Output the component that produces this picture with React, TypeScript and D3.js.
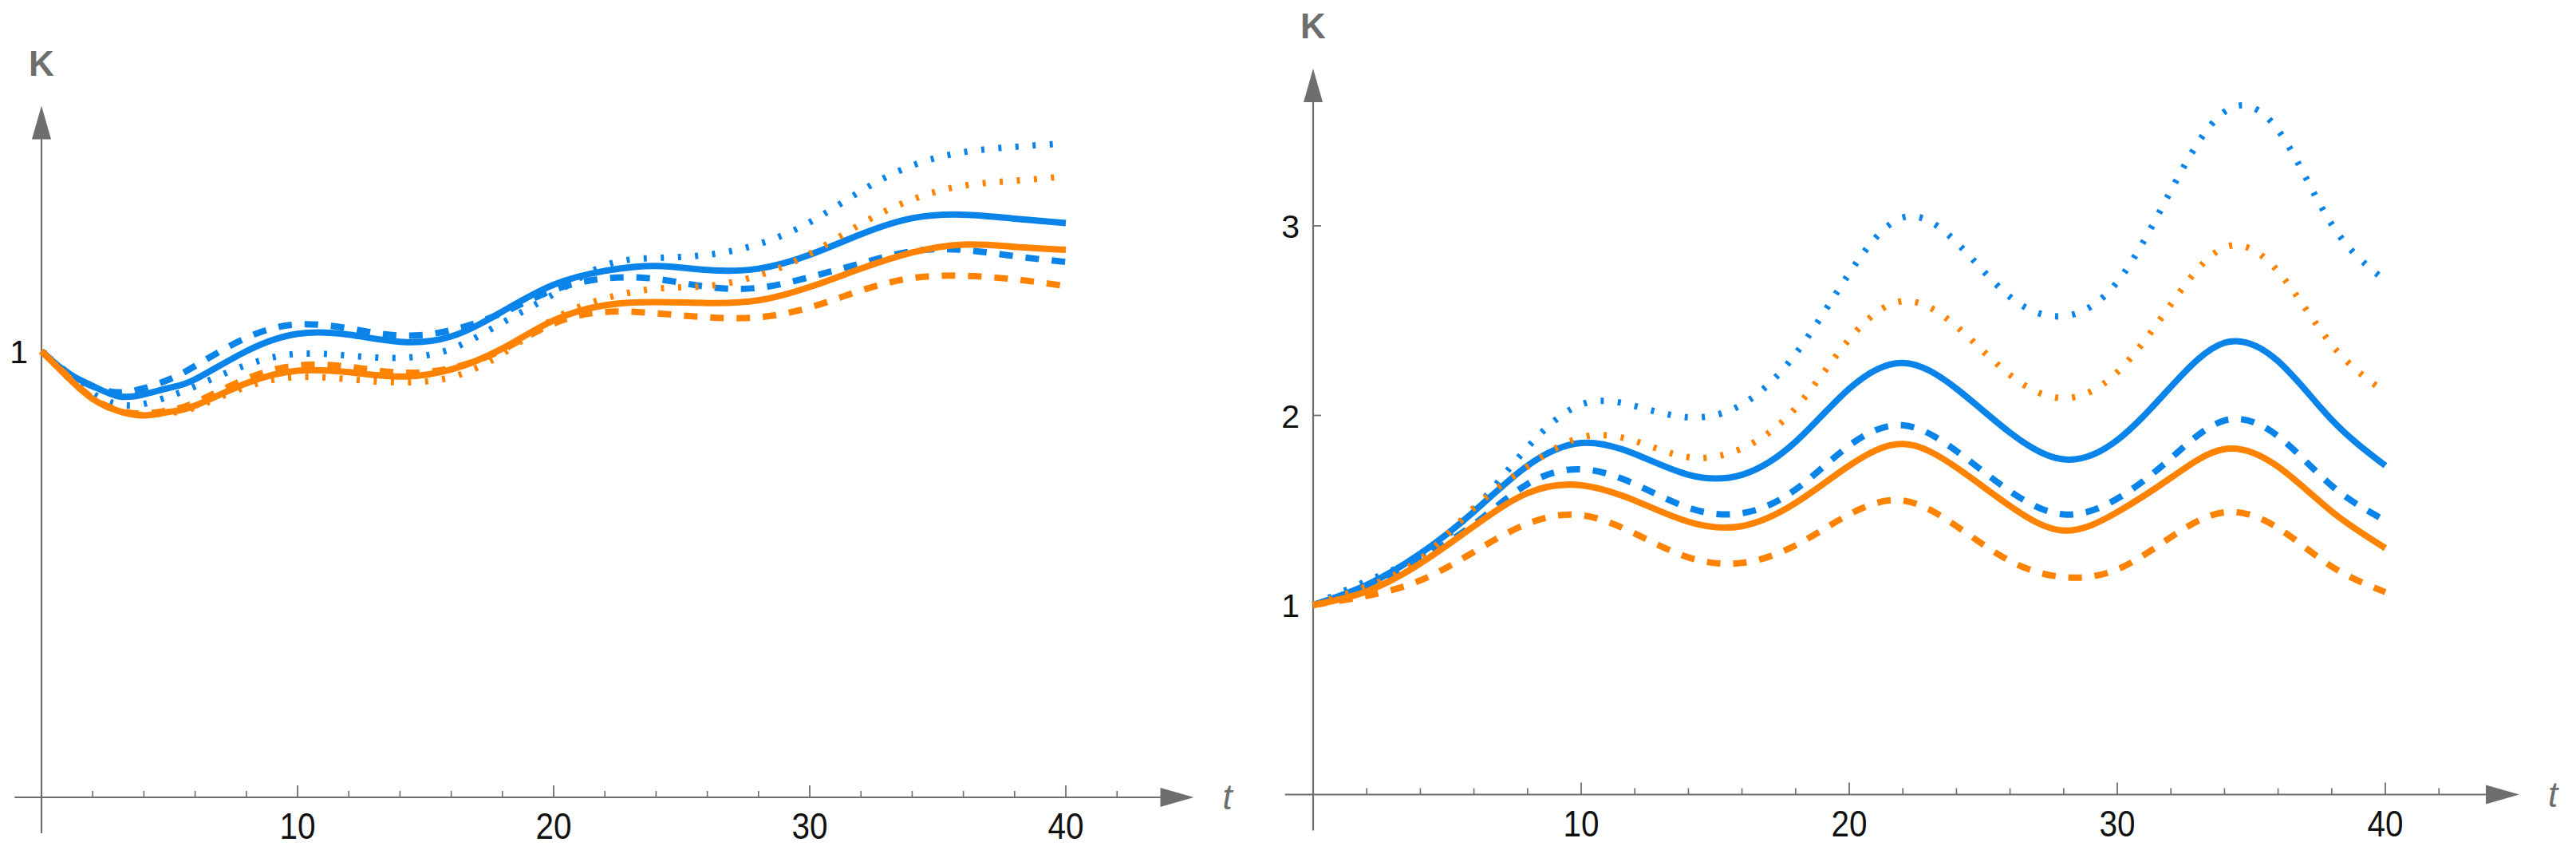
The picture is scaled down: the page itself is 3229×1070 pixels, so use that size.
import React, { useRef, useEffect } from "react";
import * as d3 from "d3";

// ---- left panel: sample times and K(t) ----
const tLeft = [0, 1, 2, 3, 4, 5, 6, 8, 10, 12, 14, 16, 18, 20, 22, 24, 26, 28, 30, 32, 34, 36, 38, 40];
const blueSolidLeft = [1.0, 0.952, 0.922, 0.899, 0.903, 0.918, 0.937, 1.0, 1.039, 1.037, 1.021, 1.033, 1.089, 1.149, 1.18, 1.191, 1.182, 1.185, 1.216, 1.262, 1.298, 1.306, 1.297, 1.287];
const blueDashLeft = [1.0, 0.953, 0.921, 0.908, 0.917, 0.937, 0.967, 1.03, 1.06, 1.051, 1.035, 1.047, 1.086, 1.137, 1.163, 1.162, 1.144, 1.142, 1.166, 1.197, 1.224, 1.227, 1.213, 1.2];
const blueDotLeft = [1.0, 0.949, 0.905, 0.881, 0.882, 0.899, 0.921, 0.969, 0.994, 0.99, 0.985, 1.005, 1.064, 1.128, 1.192, 1.209, 1.216, 1.24, 1.289, 1.359, 1.416, 1.446, 1.458, 1.466];
const orangeSolidLeft = [1.0, 0.943, 0.893, 0.866, 0.856, 0.864, 0.878, 0.928, 0.956, 0.953, 0.943, 0.959, 1.006, 1.069, 1.103, 1.11, 1.108, 1.114, 1.144, 1.185, 1.221, 1.239, 1.234, 1.227];
const orangeDashLeft = [1.0, 0.945, 0.895, 0.868, 0.86, 0.868, 0.885, 0.938, 0.968, 0.965, 0.952, 0.962, 1.003, 1.062, 1.088, 1.085, 1.076, 1.076, 1.098, 1.136, 1.164, 1.169, 1.161, 1.146];
const orangeDotLeft = [1.0, 0.943, 0.893, 0.866, 0.857, 0.862, 0.874, 0.92, 0.942, 0.937, 0.93, 0.942, 0.994, 1.072, 1.118, 1.14, 1.146, 1.17, 1.218, 1.285, 1.34, 1.371, 1.382, 1.392];

// ---- right panel ----
const tRight = [0, 2, 4, 6, 8, 10, 12, 14, 16, 18, 20, 22, 24, 26, 28, 30, 32, 34, 36, 38, 40];
const blueSolidRight = [1.0, 1.106, 1.271, 1.493, 1.735, 1.855, 1.797, 1.687, 1.687, 1.861, 2.141, 2.277, 2.141, 1.909, 1.768, 1.87, 2.151, 2.383, 2.286, 1.977, 1.735];
const blueDashRight = [1.0, 1.097, 1.246, 1.426, 1.638, 1.716, 1.638, 1.513, 1.484, 1.609, 1.841, 1.948, 1.812, 1.6, 1.478, 1.561, 1.774, 1.973, 1.89, 1.629, 1.445];
const blueDotRight = [1.0, 1.126, 1.261, 1.503, 1.832, 2.058, 2.05, 1.99, 2.058, 2.325, 2.75, 3.044, 2.913, 2.625, 2.524, 2.704, 3.186, 3.602, 3.505, 3.008, 2.712];
const orangeSolidRight = [1.0, 1.072, 1.219, 1.416, 1.59, 1.632, 1.551, 1.439, 1.416, 1.538, 1.735, 1.849, 1.725, 1.522, 1.393, 1.49, 1.671, 1.822, 1.729, 1.493, 1.3];
const orangeDashRight = [1.0, 1.048, 1.13, 1.28, 1.429, 1.474, 1.377, 1.251, 1.222, 1.315, 1.478, 1.551, 1.416, 1.232, 1.147, 1.188, 1.358, 1.489, 1.406, 1.203, 1.068];
const orangeDotRight = [1.0, 1.097, 1.242, 1.513, 1.731, 1.884, 1.865, 1.78, 1.826, 2.039, 2.402, 2.603, 2.47, 2.213, 2.091, 2.228, 2.586, 2.886, 2.76, 2.373, 2.122];

const xMajorTicks = [10, 20, 30, 40];
const xMinorTicks = [2, 4, 6, 8, 12, 14, 16, 18, 22, 24, 26, 28, 32, 34, 36, 38, 42];
const leftYTicks = [1];
const rightYTicks = [1, 2, 3];

const BLUE = "#0a84e9";
const ORANGE = "#ff8300";
const AXIS = "#6e6e6e";
const DASHED = "17 16";
const DOTTED = "4 17.5";

type Series = { values: number[]; color: string; dash: string | null };

type PanelOpts = {
  t: number[];
  series: Series[];
  xRange: [number, number]; // pixels of t=0 and t=40
  yDomain: [number, number];
  yRange: [number, number];
  yTop: number; // K value at the arrow tip
  yTicks: number[];
  yTickLen: number;
};

function drawPanel(g: d3.Selection<SVGGElement, unknown, null, undefined>, p: PanelOpts) {
  const x = d3.scaleLinear().domain([0, 40]).range(p.xRange);
  const y = d3.scaleLinear().domain(p.yDomain).range(p.yRange);
  const x0 = x(0);
  const y0 = y(0);

  // x axis
  const xEnd = x(45);
  g.append("line")
    .attr("x1", x(-1.05)).attr("x2", xEnd - 38)
    .attr("y1", y0).attr("y2", y0)
    .attr("stroke", AXIS).attr("stroke-width", 2.2);
  g.append("path")
    .attr("d", `M${xEnd},${y0} L${xEnd - 42},${y0 - 12} L${xEnd - 42},${y0 + 12} Z`)
    .attr("fill", AXIS);

  g.selectAll(".xmaj")
    .data(xMajorTicks)
    .join("line")
    .attr("x1", (d) => x(d)).attr("x2", (d) => x(d))
    .attr("y1", y0).attr("y2", y0 - 15)
    .attr("stroke", AXIS).attr("stroke-width", 1.8);
  g.selectAll(".xmin")
    .data(xMinorTicks)
    .join("line")
    .attr("x1", (d) => x(d)).attr("x2", (d) => x(d))
    .attr("y1", y0).attr("y2", y0 - 8)
    .attr("stroke", AXIS).attr("stroke-width", 1.6);
  g.selectAll(".xlab")
    .data(xMajorTicks)
    .join("text")
    .attr("transform", (d) => `translate(${x(d)},${y0 + 52}) scale(0.88,1)`)
    .attr("text-anchor", "middle")
    .attr("font-family", "'Liberation Sans', Arial, sans-serif")
    .attr("font-size", 46)
    .attr("fill", "#111")
    .text((d) => d);
  g.append("text")
    .attr("x", xEnd + 42).attr("y", y0 + 15)
    .attr("text-anchor", "middle")
    .attr("font-family", "'Liberation Sans', Arial, sans-serif")
    .attr("font-style", "italic")
    .attr("font-size", 44)
    .attr("fill", AXIS)
    .text("t");

  // y axis
  const yTip = y(p.yTop);
  g.append("line")
    .attr("x1", x0).attr("x2", x0)
    .attr("y1", y0 + 45).attr("y2", yTip + 38)
    .attr("stroke", AXIS).attr("stroke-width", 2.2);
  g.append("path")
    .attr("d", `M${x0},${yTip} L${x0 - 12},${yTip + 42} L${x0 + 12},${yTip + 42} Z`)
    .attr("fill", AXIS);
  g.selectAll(".ytick")
    .data(p.yTicks)
    .join("line")
    .attr("x1", x0).attr("x2", x0 + p.yTickLen)
    .attr("y1", (d) => y(d)).attr("y2", (d) => y(d))
    .attr("stroke", AXIS).attr("stroke-width", 1.8);
  g.selectAll(".ylab")
    .data(p.yTicks)
    .join("text")
    .attr("x", x0 - 17).attr("y", (d) => y(d) + 15)
    .attr("text-anchor", "end")
    .attr("font-family", "'Liberation Sans', Arial, sans-serif")
    .attr("font-size", 41)
    .attr("fill", "#111")
    .text((d) => d);
  g.append("text")
    .attr("x", x0).attr("y", yTip - 38)
    .attr("text-anchor", "middle")
    .attr("font-family", "'Liberation Sans', Arial, sans-serif")
    .attr("font-weight", "bold")
    .attr("font-size", 44)
    .attr("fill", AXIS)
    .text("K");

  // curves
  const line = d3
    .line<number>()
    .x((_, i) => x(p.t[i]))
    .y((d) => y(d))
    .curve(d3.curveNatural);
  p.series.forEach((s) => {
    g.append("path")
      .datum(s.values)
      .attr("fill", "none")
      .attr("stroke", s.color)
      .attr("stroke-width", 8)
      .attr("stroke-linecap", "butt")
      .attr("stroke-linejoin", "round")
      .attr("stroke-dasharray", s.dash)
      .attr("d", line);
  });
}

const App: React.FC = () => {
  const ref = useRef<SVGSVGElement>(null);

  useEffect(() => {
    if (!ref.current) return;
    const svg = d3.select(ref.current);
    svg.selectAll("*").remove();

    drawPanel(svg.append("g"), {
      t: tLeft,
      series: [
        { values: blueSolidLeft, color: BLUE, dash: null },
        { values: blueDashLeft, color: BLUE, dash: DASHED },
        { values: blueDotLeft, color: BLUE, dash: DOTTED },
        { values: orangeSolidLeft, color: ORANGE, dash: null },
        { values: orangeDashLeft, color: ORANGE, dash: DASHED },
        { values: orangeDotLeft, color: ORANGE, dash: DOTTED },
      ],
      xRange: [52, 1336],
      yDomain: [0, 1],
      yRange: [999, 440],
      yTop: 1.55,
      yTicks: leftYTicks,
      yTickLen: 7,
    });

    drawPanel(svg.append("g"), {
      t: tRight,
      series: [
        { values: blueSolidRight, color: BLUE, dash: null },
        { values: blueDashRight, color: BLUE, dash: DASHED },
        { values: blueDotRight, color: BLUE, dash: DOTTED },
        { values: orangeSolidRight, color: ORANGE, dash: null },
        { values: orangeDashRight, color: ORANGE, dash: DASHED },
        { values: orangeDotRight, color: ORANGE, dash: DOTTED },
      ],
      xRange: [1646, 2990],
      yDomain: [1, 3],
      yRange: [758, 283],
      yTop: 3.83,
      yTicks: rightYTicks,
      yTickLen: 10,
    });
  }, []);

  return (
    <svg
      ref={ref}
      width={3229}
      height={1070}
      style={{ position: "absolute", left: 0, top: 0, display: "block", background: "#fff" }}
    />
  );
};

export default App;
